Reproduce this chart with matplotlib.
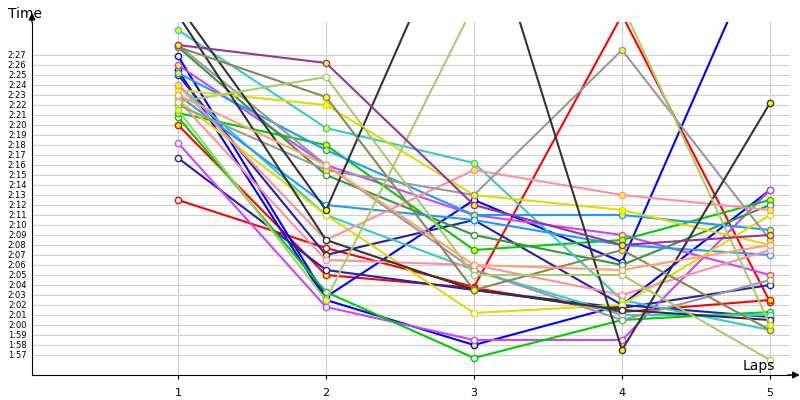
import matplotlib
matplotlib.use("Agg")
import matplotlib.pyplot as plt
import numpy as np

laps = [1, 2, 3, 4, 5]
colors = ["#ff0000", "#ff0000", "#0000ff", "#0000ff", "#2222aa", "#2222aa", "#cc44ff", "#cc44ff",
          "#00cc00", "#00cc00", "#339933", "#33cccc", "#33cccc", "#1e9bff", "#1e9bff", "#dddd00",
          "#dddd00", "#ff8fa0", "#ff8fa0", "#999999", "#999999", "#333333", "#333333", "#888855",
          "#aacc66", "#aacc66", "#ffa070", "#993399"]
series = [
    [132.5, 127.7, 123.8, 151.0, 122.3],
    [140.0, 125.0, 123.7, 121.3, 122.5],
    [146.9, 122.8, 132.5, 126.3, 160.0],
    [145.5, 122.5, 118.0, 122.0, 133.5],
    [136.7, 125.5, 123.5, 121.7, 124.0],
    [145.0, 127.0, 130.5, 122.0, 120.8],
    [138.2, 121.8, 118.5, 118.5, 133.5],
    [146.0, 136.0, 131.0, 129.0, 125.0],
    [140.8, 123.3, 116.7, 120.5, 121.3],
    [141.2, 138.0, 127.5, 128.5, 132.5],
    [147.8, 135.0, 129.0, 126.0, 132.0],
    [149.5, 139.7, 136.2, 122.5, 119.5],
    [144.0, 131.0, 125.5, 121.0, 121.0],
    [145.2, 137.5, 131.0, 131.0, 129.5],
    [143.0, 132.0, 130.5, 128.0, 127.0],
    [143.5, 142.0, 133.0, 131.5, 128.0],
    [142.5, 131.0, 121.2, 122.0, 131.0],
    [144.0, 128.5, 135.5, 133.0, 131.5],
    [142.5, 126.5, 126.0, 123.0, 127.5],
    [142.0, 135.5, 133.0, 147.5, 128.5],
    [148.0, 136.0, 125.5, 120.5, 124.5],
    [152.0, 131.5, 165.0, 117.5, 142.2],
    [151.0, 128.5, 123.5, 121.5, 120.5],
    [147.8, 142.8, 123.5, 127.5, 119.5],
    [142.3, 144.8, 125.0, 125.0, 116.5],
    [141.5, 122.5, 152.0, 152.0, 120.0],
    [143.0, 136.0, 126.0, 125.5, 128.0],
    [148.0, 146.2, 132.0, 128.0, 129.0],
]
ytick_secs = list(range(117, 148))
ytick_labels = [f"{s // 60}:{s % 60:02d}" for s in ytick_secs]

fig = plt.figure(figsize=(8, 4), dpi=100)
ax = fig.add_axes([0.04, 0.0625, 0.9475, 0.8825])
ax.set_xlim(0.0135, 5.135)
ax.set_ylim(115, 150.3)
for s in ytick_secs:
    ax.axhline(s, color="#d0d0d0", lw=0.8, zorder=0)
for l in laps:
    ax.axvline(l, color="#d0d0d0", lw=0.8, zorder=0)
for i, (c, v) in enumerate(zip(colors, series)):
    fc = "#ffff00" if i % 2 else "white"
    ax.plot(laps, v, color=c, lw=1.5, marker="o", ms=4.5, mfc=fc, mec=c, mew=1, zorder=2, clip_on=True)

ax.set_yticks(ytick_secs)
ax.set_yticklabels(ytick_labels, fontsize=6)
ax.set_xticks(laps)
ax.set_xticklabels([str(l) for l in laps], fontsize=8)
ax.tick_params(axis="y", length=0, pad=4)
ax.tick_params(axis="x", length=3, pad=6)
for s in ["top", "right"]:
    ax.spines[s].set_visible(False)
for s in ["left", "bottom"]:
    ax.spines[s].set_color("black")
ax.annotate("", xy=(0.0135, 151.5), xytext=(0.0135, 150), annotation_clip=False,
            arrowprops=dict(arrowstyle="-|>", color="black", lw=1))
ax.annotate("", xy=(5.22, 115), xytext=(5.1, 115), annotation_clip=False,
            arrowprops=dict(arrowstyle="-|>", color="black", lw=1))
fig.text(0.01, 0.955, "Time", fontsize=10)
fig.text(0.928, 0.075, "Laps", fontsize=10)
fig.savefig("out.png")
